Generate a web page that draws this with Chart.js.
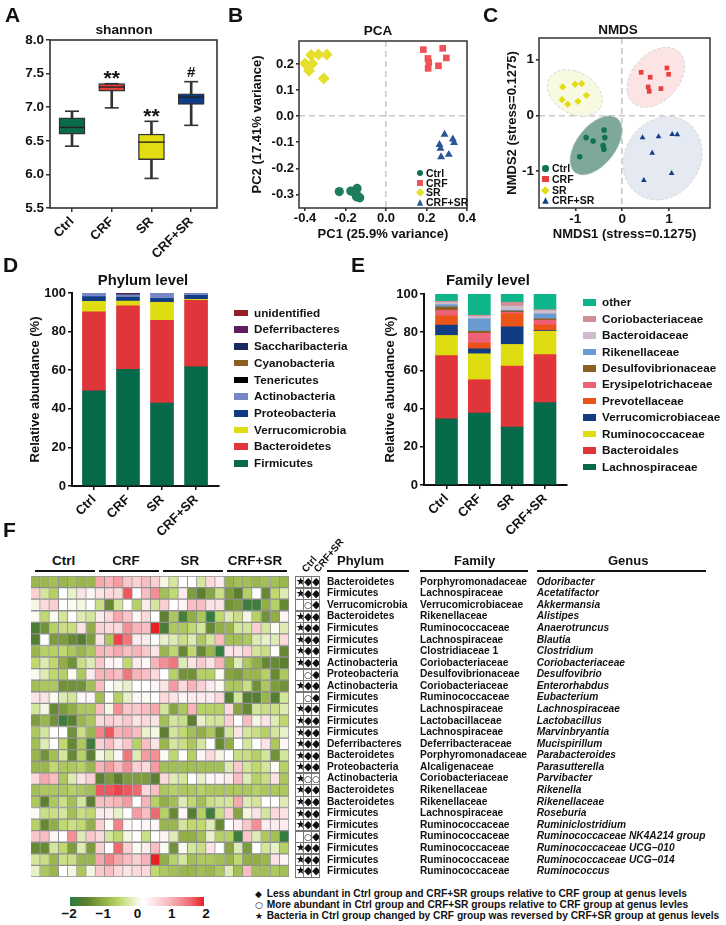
<!DOCTYPE html>
<html>
<head>
<meta charset="utf-8">
<title>Gut microbiota figure</title>
<script src="https://cdn.jsdelivr.net/npm/chart.js@4"></script>
<style>
  html, body { margin: 0; padding: 0; background: #fff; overflow: hidden; }
  body { width: 726px; height: 925px; position: relative; font-family: "Liberation Sans", Arial, sans-serif; font-weight: bold; color: #111; opacity: .999; }
  canvas { position: absolute; }
  .t { position: absolute; white-space: nowrap; }
  .line { position: absolute; background: #111; }
  .sym { position: absolute; border: 1px solid #777; box-sizing: border-box; text-align: center; font-family: "DejaVu Sans", sans-serif; overflow: hidden; }
</style>
</head>
<body>
<script>
// ---- data ----
const groups = ['Ctrl', 'CRF', 'SR', 'CRF+SR'];
const groupColors = ['#0a6b4a', '#e8403f', '#e3dc10', '#0f3d85'];

// A: box plot of shannon
const boxMin = [6.42, 6.99, 5.94, 6.73];
const boxQ1 = [6.60, 7.24, 6.22, 7.04];
const boxMed = [6.70, 7.30, 6.48, 7.15];
const boxQ3 = [6.84, 7.35, 6.60, 7.20];
const boxMax = [6.94, 7.35, 6.79, 7.38];
const noteText = ['', '**', '**', '#'];
const noteY = [0, 7.46, 6.90, 7.52];
const shannonTicks = [5.5, 6, 6.5, 7, 7.5, 8];

// B: PCA
const pcaCtrl = [[-0.231,-0.289],[-0.174,-0.287],[-0.143,-0.277],[-0.154,-0.294],[-0.143,-0.303],[-0.13,-0.313],[-0.146,-0.309]];
const pcaCrf = [[0.184,0.255],[0.28,0.26],[0.207,0.221],[0.211,0.206],[0.298,0.223],[0.259,0.193],[0.208,0.183]];
const pcaSr = [[-0.40,0.202],[-0.37,0.234],[-0.334,0.236],[-0.293,0.236],[-0.364,0.202],[-0.38,0.174],[-0.308,0.144]];
const pcaCrfSr = [[0.289,-0.07],[0.33,-0.088],[0.336,-0.102],[0.264,-0.109],[0.269,-0.124],[0.272,-0.156],[0.31,-0.147]];
const pcaXTicks = [-0.4, -0.2, 0, 0.2, 0.4];
const pcaYTicks = [-0.3, -0.2, -0.1, 0, 0.1, 0.2];

// C: NMDS
const nmdsCtrl = [[-0.386,-0.263],[-0.371,-0.40],[-0.77,-0.40],[-0.62,-0.46],[-0.407,-0.545],[-0.39,-0.61],[-0.907,-0.743]];
const nmdsCrf = [[0.407,0.772],[0.957,0.85],[0.993,0.737],[0.6,0.683],[0.557,0.509],[0.579,0.431],[0.829,0.479]];
const nmdsSr = [[-1.27,0.509],[-1.007,0.557],[-0.864,0.569],[-0.764,0.359],[-1.286,0.281],[-0.943,0.251],[-1.164,0.198]];
const nmdsCrfSr = [[0.436,-0.401],[0.779,-0.383],[1.07,-0.341],[1.179,-0.347],[0.643,-0.677],[1.057,-1.042],[0.464,-1.168]];
// ellipse: centre x, centre y, semi axes (x units), screen angle in degrees
const ellCtrl = [-0.557, -0.54, 0.735, 0.415, -52];
const ellCrf = [0.72, 0.683, 0.736, 0.5, -48];
const ellSr = [-1.014, 0.401, 0.629, 0.443, 30];
const ellCrfSr = [0.864, -0.772, 0.929, 0.8, -55];
const ellFill = ['#7ea898', '#fbe4e3', '#f8f9e1', '#e5e9f1'];
const nmdsTicks = [-1, 0, 1];

// D: phylum level, bottom to top
const phylumNames = ['Firmicutes','Bacteroidetes','Verrucomicrobia','Proteobacteria','Actinobacteria','Tenericutes','Cyanobacteria','Saccharibacteria','Deferribacteres','unidentified'];
const phylumColors = ['#05694a','#e0353b','#e0dc12','#113b83','#7688c8','#000000','#8b5e22','#1a2a60','#5f1d5f','#941f27'];
const phylumCtrl = [49.3, 41.0, 5.4, 2.4, 1.9, 0, 0, 0, 0, 0];
const phylumCrf = [60.5, 32.9, 2.4, 2.0, 1.3, 0.1, 0.1, 0.2, 0.3, 0.1];
const phylumSr = [43.0, 42.8, 9.4, 2.0, 2.8, 0, 0, 0, 0, 0];
const phylumCrfSr = [61.8, 34.4, 0.5, 2.1, 1.0, 0, 0, 0, 0, 0.2];

// E: family level, bottom to top
const familyNames = ['Lachnospiraceae','Bacteroidales','Ruminococcaceae','Verrucomicrobiaceae','Prevotellaceae','Erysipelotrichaceae','Desulfovibrionaceae','Rikenellaceae','Bacteroidaceae','Coriobacteriaceae','other'];
const familyColors = ['#05694a','#e0353b','#e0dc12','#113b83','#ea5418','#ee6076','#8b5e22','#6a9bd0','#cdbccd','#d28e94','#0fb58a'];
const familyCtrl = [34.6, 33.1, 10.6, 5.4, 4.8, 3.0, 1.7, 1.2, 1.1, 0.7, 3.8];
const familyCrf = [37.7, 17.4, 13.6, 2.6, 3.0, 5.2, 1.0, 6.5, 1.3, 0.6, 11.1];
const familySr = [30.3, 32.0, 11.3, 9.2, 6.9, 0.7, 0.6, 0.5, 2.2, 2.0, 4.3];
const familyCrfSr = [43.1, 25.2, 12.2, 0.4, 2.9, 2.5, 0.7, 2.6, 1.7, 0.5, 8.2];
const percentTicks = [0, 20, 40, 60, 80, 100];

// F: heat map rows, 7 samples in each of the 4 groups
const heatPhylum = ['Bacteroidetes','Firmicutes','Verrucomicrobia','Bacteroidetes','Firmicutes','Firmicutes','Firmicutes','Actinobacteria','Proteobacteria','Actinobacteria','Firmicutes','Firmicutes','Firmicutes','Firmicutes','Deferribacteres','Bacteroidetes','Proteobacteria','Actinobacteria','Bacteroidetes','Bacteroidetes','Firmicutes','Firmicutes','Firmicutes','Firmicutes','Firmicutes','Firmicutes'];
const heatFamily = ['Porphyromonadaceae','Lachnospiraceae','Verrucomicrobiaceae','Rikenellaceae','Ruminococcaceae','Lachnospiraceae','Clostridiaceae 1','Coriobacteriaceae','Desulfovibrionaceae','Coriobacteriaceae','Ruminococcaceae','Lachnospiraceae','Lactobacillaceae','Lachnospiraceae','Deferribacteraceae','Porphyromonadaceae','Alcaligenaceae','Coriobacteriaceae','Rikenellaceae','Rikenellaceae','Lachnospiraceae','Ruminococcaceae','Ruminococcaceae','Ruminococcaceae','Ruminococcaceae','Ruminococcaceae'];
const heatGenus = ['Odoribacter','Acetatifactor','Akkermansia','Alistipes','Anaerotruncus','Blautia','Clostridium','Coriobacteriaceae','Desulfovibrio','Enterorhabdus','Eubacterium','Lachnospiraceae','Lactobacillus','Marvinbryantia','Mucispirillum','Parabacteroides','Parasutterella','Parvibacter','Rikenella','Rikenellaceae','Roseburia','Ruminiclostridium','Ruminococcaceae NK4A214 group','Ruminococcaceae UCG−010','Ruminococcaceae UCG−014','Ruminococcus'];
const heatSymbols = ['*DD','*DD','_OD','*DD','*DD','*DD','*DD','*DD','_OD','*DD','_OD','*DD','*DD','*DD','*DD','*DD','*DD','*OO','*DD','*DD','*DD','*DD','_OD','*DD','*DD','*DD'];
const heatValues = [
  [-.9,-.9,-.8,-.9,-.8,-.9,-.9, 1.1,1,1.2,.8,.7,.9,.7, 0,-.3,.2,.2,-.3,.6,.4, -.9,-.8,-.8,-.9,-.8,-.8,-.9],
  [.7,-.3,-.6,.2,-.1,.5,.3, .5,.6,.6,1.7,.2,.9,1.3, -.8,-.5,.4,-1.2,-1.5,-1.1,-.4, -1.2,-1.5,-.6,.2,-1.4,-.5,-.2],
  [0,.6,.7,.2,.1,0,.2, -.4,-1.4,-.3,.2,-.6,.4,-.3, .7,.2,.3,.9,.9,.5,.5, -1.3,-1.2,-1.8,-1.8,-1,-.6,-1.4],
  [.1,-.5,.1,-.3,.2,-.2,-.3, .4,.6,1.1,.8,.3,.6,.2, -1.5,-.7,-1.7,-1,-.7,-1.9,-.5, -.2,-.4,0,-.6,-1.3,-1,.3],
  [-1.7,-1.3,-.6,-.4,-.4,.5,-1, .7,.6,.6,1.3,1,.9,2, -1.7,-.7,-.7,-.5,-.3,-1.4,-1, -.9,-.3,-.3,.7,-.3,.1,-.2],
  [-1.6,.2,-1.2,-1.2,-1.4,-1.6,-1.2, .5,-.7,1.8,1.5,.4,.4,.2, -.1,-.2,-.4,-.2,-.7,-.3,.9, -.8,-.8,-.7,-.2,-.1,-.2,.6],
  [-.9,-.6,-.6,-.5,-.7,-.9,-.7, 1,.9,1.1,.9,1,.8,.5, -.9,-.5,-1.4,-.5,-1.4,-.9,-1.9, .5,.5,.7,-.3,-.4,.2,-1.4],
  [-.5,-.2,-.5,-1,-1.3,-.4,-.2, .8,.3,.3,-.5,.4,.3,1, 1.3,1.5,-.2,.5,.8,.5,1, -.9,-.2,-.7,-1,-1.4,-1.4,-1.5],
  [.1,-.2,-.5,-.6,.1,-.7,.4, 1,1,.9,1.5,1,.9,.6, .2,-.6,-1.3,-1.3,-.6,-.6,.1, -1.1,-1.2,-.9,-.9,-.6,-1.4,-.7],
  [-.8,-.7,-.7,-1.3,-1.3,-1.3,-.8, .9,.2,0,-.1,.2,.2,.3, .5,1.2,.6,1,.7,.4,.1, -.7,-.7,-.4,-1.3,-.7,-1.2,-1.3],
  [.5,.5,.1,-.2,-.3,.3,.3, -.8,.2,-.6,-.1,.3,.1,.2, .6,.5,.3,.4,.4,.4,.6, -1.6,-.3,-1.6,-1.6,-.9,-1.6,-.3],
  [-.3,0,-1.4,-1.2,-1,-.7,-.7, .9,0,1.3,.8,.8,.9,1.1, -.3,-1.1,-.7,1,-.6,-.6,-.6, .6,-1.1,-1.4,-.3,-.4,-.4,-.2],
  [-1.2,-.9,-1.3,-1.8,-1.5,-.9,-.7, .6,.7,.6,.8,.5,.6,.5, -.8,-.3,-.4,-1.5,-.1,-.3,-.3, .7,.2,.9,0,.5,-.2,-.5],
  [-.7,-.3,.2,.2,-1.3,-.4,-.9, 1.4,1.7,1,1.1,.9,-.1,0, -1.5,-.3,-.5,-.8,-1,-.7,-1.4, -.3,.5,-.3,-.4,-.6,-.3,-.1],
  [-.8,-.2,.2,-.5,-1.4,-.7,-1.8, .7,.9,.5,.8,-.6,.9,.5, -.9,-.3,-.4,-.7,-.3,.2,-1.4, -1,.2,-.3,.2,.5,-.7,.3],
  [-.9,-1.3,-.8,-.3,-1.4,-.6,-1.5, 0,-.2,.3,1.5,-.2,1.2,1.3, .1,-.5,.2,-.6,.3,.6,0, .2,-.4,-.4,-.6,-.3,-1.3,-.3],
  [-.9,-.9,-.5,-.7,-.7,-.6,-.9, 1,1.2,.9,1.3,.7,.6,1.2, -.8,-.8,-.8,-.8,-.8,-.8,-.8, -.2,.8,-.3,-.5,-.3,.1,-.6],
  [.6,1.1,.9,-.7,-.2,.5,.7, -1.5,-1.2,-1.5,-1.2,-1.2,-1.2,-1.5, .6,-.2,-.3,.2,-.1,.3,.3, .4,.9,-.2,-.6,-.4,.5,-.7],
  [-.8,-.7,-.7,-.7,-.6,-.7,-.8, 1.7,1.7,1.8,1.7,1.6,.6,.9, -.7,-.6,-.7,-.7,-.6,-.7,-.7, -.7,-.7,-.7,-.6,-.7,-.7,-.7],
  [-.7,-1.5,-.7,-.4,-.8,-.3,-1.5, .9,.9,1,1.2,.2,1,-.6, -1,-.8,-.2,-.5,-.8,-.4,-.3, -.3,1.1,-.2,-.3,.2,.2,-.2],
  [.1,-.4,-.4,-.3,-.8,-.4,-.5, .4,.4,-.1,.2,1.2,.9,1.6, -.6,-1.4,.3,-1.6,-.6,-1.8,-.4, .7,-1.1,0,.5,-.3,.6,.5],
  [-.6,-1.4,-1,-.5,-.4,-.5,-1, .7,.1,1.4,.3,.2,.3,.3, -.9,-.9,-.3,-.5,-.5,-.2,-1.4, .2,.4,.8,1.3,.4,.4,.4],
  [.8,.9,.3,.2,1.3,-.2,.8, .6,-.3,-.5,0,.2,-.4,.2, .3,-.2,-1,-1,-.8,-.1,-.6, -.6,-1.8,.8,-.2,-.7,-.8,-1.9],
  [-1.4,-1.4,-.3,-.5,-1.2,-.2,-1.2, .7,.2,1.6,.7,.1,.4,.9, .1,-1.3,.1,-.3,-.4,.5,.2, -1.1,-.2,-1.2,.2,-.3,-.1,-.6],
  [-.3,-.4,-.9,-.4,-.4,-.9,-.9, 1.1,1.4,1.1,.9,.7,1,2, -1,-.6,-.3,-.8,-.7,-.7,-.8, -.9,-.5,-1,-1,-.9,.5,.3],
  [-.1,-.7,-.9,.2,0,-.7,0, .8,.9,.6,.5,.6,.6,-.5, -.7,-.8,-.9,-.9,-.8,-.9,-.7, -.2,-.8,.9,-.8,-.8,-.7,-.8]
];
const colorStops = [[-2,'#2a7c42'],[-1.5,'#5d7f30'],[-1,'#91af46'],[-.5,'#bfd96e'],[0,'#f4f7e2'],[.2,'#ffffff'],[1,'#f8b4b9'],[1.6,'#ef6a70'],[2,'#ec1c24']];
const colorbarTicks = [-2, -1, 0, 1, 2];
const footnotes = [
  ['◆', 'Less abundant in Ctrl group and CRF+SR groups relative to CRF group at genus levels'],
  ['○', 'More abundant in Ctrl group and CRF+SR groups relative to CRF group at genus levles'],
  ['★', 'Bacteria in Ctrl group changed by CRF group was reversed by CRF+SR group at genus levels']
];

// ---- helpers ----
const FONT = '"Liberation Sans", Arial, sans-serif';
Chart.defaults.font.family = FONT;
Chart.defaults.font.weight = 'bold';
Chart.defaults.color = '#111';
Chart.defaults.animation = false;

function hex(c) { return [1, 3, 5].map(i => parseInt(c.substr(i, 2), 16)); }

function heatColor(v) {
  for (let i = 1; i < colorStops.length; i++) {
    if (v <= colorStops[i][0]) {
      const [v0, c0] = colorStops[i - 1], [v1, c1] = colorStops[i];
      const f = (v - v0) / (v1 - v0), a = hex(c0), b = hex(c1);
      return `rgb(${a.map((x, k) => Math.round(x + (b[k] - x) * f)).join(',')})`;
    }
  }
  return colorStops[colorStops.length - 1][1];
}

function text(str, x, y, size, extra) {
  const d = document.createElement('div');
  d.className = 't';
  d.textContent = str;
  d.style.left = x + 'px';
  d.style.top = (y - size * 0.6) + 'px';
  d.style.fontSize = size + 'px';
  d.style.lineHeight = (size * 1.2) + 'px';
  if (extra) Object.assign(d.style, extra);
  document.body.appendChild(d);
  return d;
}

function rule(x0, x1, y, h) {
  const d = document.createElement('div');
  d.className = 'line';
  d.style.cssText = `left:${x0}px;width:${x1 - x0}px;top:${y}px;height:${h}px`;
  document.body.appendChild(d);
}

function canvas(l, t, w, h) {
  const c = document.createElement('canvas');
  c.width = w; c.height = h;
  c.style.left = l + 'px'; c.style.top = t + 'px';
  c.style.width = w + 'px'; c.style.height = h + 'px';
  document.body.appendChild(c);
  return c;
}

// title sits in a 30px band above the plot
function titleBand(str, size, plotTop, titleY) {
  const lh = size * 1.2, top = titleY - (plotTop - 30) - lh / 2;
  return { display: true, text: str, color: '#111', font: { size }, padding: { top, bottom: 30 - top - lh } };
}

function fixedTicks(vals) {
  return s => { s.ticks = vals.map(v => ({ value: v })); };
}

// the titles are not centred on the plots in the figure
const titlePosPlugin = {
  id: 'titlePos',
  afterLayout(chart, args, opts) {
    if (opts.cx === undefined) return;
    const b = chart.titleBlock, half = (b.right - b.left) / 2;
    b.left = opts.cx - half;
    b.right = opts.cx + half;
  }
};

const framePlugin = {
  id: 'frame',
  afterDatasetsDraw(chart, args, opts) {
    if (!opts.width) return;
    const { ctx, chartArea: a } = chart;
    ctx.save();
    ctx.strokeStyle = opts.color;
    ctx.lineWidth = opts.width;
    ctx.strokeRect(a.left, a.top, a.right - a.left, a.bottom - a.top);
    ctx.restore();
  }
};

// significance marks above the boxes of panel A
const notesPlugin = {
  id: 'notes',
  afterDatasetsDraw(chart, args, opts) {
    if (!opts.text) return;
    const { ctx, scales } = chart;
    ctx.save();
    ctx.fillStyle = '#111';
    ctx.textAlign = 'center';
    ctx.textBaseline = 'middle';
    opts.text.forEach((t, i) => {
      if (!t) return;
      ctx.font = (t === '#' ? 'bold 15px ' : 'bold 21px ') + FONT;
      ctx.fillText(t, scales.x.getPixelForValue(i), scales.y.getPixelForValue(opts.y[i]) + (t === '#' ? 1 : 3));
    });
    ctx.restore();
  }
};

// confidence ellipses of panel C, placed with the chart scales
const ellipsePlugin = {
  id: 'ellipses',
  beforeDatasetsDraw(chart, args, opts) {
    if (!opts.list) return;
    const { ctx, scales } = chart;
    const unit = Math.abs(scales.x.getPixelForValue(1) - scales.x.getPixelForValue(0));
    ctx.save();
    opts.list.forEach((e, i) => {
      ctx.beginPath();
      ctx.ellipse(scales.x.getPixelForValue(e[0]), scales.y.getPixelForValue(e[1]), e[2] * unit, e[3] * unit, e[4] * Math.PI / 180, 0, Math.PI * 2);
      ctx.fillStyle = opts.fill[i];
      ctx.fill();
      ctx.setLineDash([3, 2]);
      ctx.lineWidth = 1;
      ctx.strokeStyle = '#d4d4d4';
      ctx.stroke();
    });
    ctx.restore();
  }
};

Chart.register(titlePosPlugin, framePlugin, notesPlugin, ellipsePlugin);

function linearAxis(o) {
  return {
    type: 'linear', min: o.min, max: o.max, offset: false,
    afterBuildTicks: fixedTicks(o.ticks),
    afterFit: s => { if (s.axis === 'x') s.height = o.size; else s.width = o.size; },
    border: o.border || { display: false },
    grid: Object.assign({ offset: false }, o.grid),
    title: o.title || { display: false },
    ticks: Object.assign({ autoSkip: false, color: '#111', font: { size: o.font }, padding: o.pad === undefined ? 2 : o.pad }, o.tickOpts)
  };
}

const dashZero = {
  color: c => Math.abs(c.tick.value) < 1e-6 ? '#c9c9c9' : 'rgba(0,0,0,0)',
  tickColor: '#333', lineWidth: 1.6, tickLength: 3
};

// ---- A: shannon box plot ----
new Chart(canvas(0, 10, 248, 252), {
  data: {
    datasets: [
      { type: 'bar', label: 'range', order: 3, grouped: false, barThickness: 2, backgroundColor: '#333',
        data: groups.map((g, i) => ({ x: i, y: [boxMin[i], boxMax[i]] })) },
      { type: 'bar', label: 'IQR', order: 2, grouped: false, barThickness: 26, backgroundColor: groupColors, borderColor: '#333', borderWidth: 1.4, borderSkipped: false,
        data: groups.map((g, i) => ({ x: i, y: [boxQ1[i], boxQ3[i]] })) },
      { type: 'line', label: 'median', order: 1, showLine: false, pointStyle: 'line', pointRadius: 13, pointBorderColor: '#222', pointBorderWidth: 1.4,
        data: groups.map((g, i) => ({ x: i, y: boxMed[i] })) },
      { type: 'line', label: 'min', order: 1, showLine: false, pointStyle: 'line', pointRadius: 7, pointBorderColor: '#333', pointBorderWidth: 1.6,
        data: groups.map((g, i) => ({ x: i, y: boxMin[i] })) },
      { type: 'line', label: 'max', order: 1, showLine: false, pointStyle: 'line', pointRadius: 7, pointBorderColor: '#333', pointBorderWidth: 1.6,
        data: groups.map((g, i) => ({ x: i, y: boxMax[i] })) }
    ]
  },
  options: {
    responsive: false,
    layout: { autoPadding: false, padding: { right: 31 } },
    plugins: {
      legend: { display: false }, tooltip: { enabled: false },
      title: titleBand('shannon', 13.7, 40, 30),
      titlePos: { cx: 124 },
      frame: { color: '#333', width: 1.6 },
      notes: { text: noteText, y: noteY }
    },
    scales: {
      x: linearAxis({ min: -0.554, max: 3.65, ticks: [0, 1, 2, 3], size: 54, font: 13,
        grid: { display: true, drawOnChartArea: false, tickColor: '#333', tickLength: 4, lineWidth: 1.5 },
        tickOpts: { minRotation: 45, maxRotation: 45, callback: v => groups[v] } }),
      y: linearAxis({ min: 5.5, max: 8, ticks: shannonTicks, size: 50, font: 13.5,
        grid: { display: true, drawOnChartArea: false, tickColor: '#333', tickLength: 4, lineWidth: 1.5 },
        tickOpts: { callback: v => v.toFixed(1) } })
    }
  }
});

// ---- B, C: ordination scatter ----
const pointStyles = ['circle', 'rect', 'rectRot', 'triangle'];

function scatterSets(sets, colors, radii) {
  return sets.map((pts, i) => ({
    type: 'scatter', label: groups[i], pointStyle: pointStyles[i], pointRadius: radii[i],
    pointBackgroundColor: colors[i], pointBorderWidth: 0,
    data: pts.map(p => ({ x: p[0], y: p[1] }))
  }));
}

new Chart(canvas(245, 11, 266, 231), {
  data: { datasets: scatterSets([pcaCtrl, pcaCrf, pcaSr, pcaCrfSr], ['#1f7d5c', '#ef5257', '#e6e02c', '#2c5597'], [4.6, 4.7, 6, 4.6]) },
  options: {
    responsive: false,
    layout: { autoPadding: false, padding: { right: 44 } },
    plugins: {
      legend: { display: false }, tooltip: { enabled: false },
      title: titleBand('PCA', 13.5, 41, 31),
      titlePos: { cx: 133 },
      frame: { color: '#333', width: 1.5 }
    },
    scales: {
      x: linearAxis({ min: -0.43, max: 0.4, ticks: pcaXTicks, size: 34, font: 13, pad: 0, grid: Object.assign({ display: true }, dashZero),
        border: { display: false, dash: [6, 4] },
        title: { display: true, text: 'PC1 (25.9% variance)', font: { size: 13 }, color: '#111', padding: { top: 0, bottom: 0 } },
        tickOpts: { maxRotation: 0, callback: v => v.toFixed(1) } }),
      y: linearAxis({ min: -0.352, max: 0.288, ticks: pcaYTicks, size: 54, font: 13, grid: Object.assign({ display: true }, dashZero),
        border: { display: false, dash: [6, 4] },
        title: { display: true, text: 'PC2 (17.41% variance)', font: { size: 13 }, color: '#111', padding: { top: 5, bottom: 0 } },
        tickOpts: { callback: v => v.toFixed(1) } })
    }
  }
});

new Chart(canvas(500, 8, 236, 234), {
  data: { datasets: scatterSets([nmdsCtrl, nmdsCrf, nmdsSr, nmdsCrfSr], ['#0f7350', '#e8403f', '#e3dc10', '#123f85'], [2.8, 3.3, 3.6, 3.3]) },
  options: {
    responsive: false,
    layout: { autoPadding: false, padding: { right: 26 } },
    plugins: {
      legend: { display: false }, tooltip: { enabled: false },
      title: titleBand('NMDS', 13.5, 38, 30),
      titlePos: { cx: 118 },
      frame: { color: '#333', width: 1.5 },
      ellipses: { list: [ellCtrl, ellCrf, ellSr, ellCrfSr], fill: ellFill }
    },
    scales: {
      x: linearAxis({ min: -1.777, max: 1.878, ticks: nmdsTicks, size: 34, font: 13.5, pad: 0, grid: Object.assign({ display: true }, dashZero),
        border: { display: false, dash: [6, 4] },
        title: { display: true, text: 'NMDS1 (stress=0.1275)', font: { size: 13 }, color: '#111', padding: { top: 0, bottom: 0 } },
        tickOpts: { maxRotation: 0, callback: v => String(v) } }),
      y: linearAxis({ min: -1.664, max: 1.388, ticks: nmdsTicks, size: 39, font: 13.5, grid: Object.assign({ display: true }, dashZero),
        border: { display: false, dash: [6, 4] },
        title: { display: true, text: 'NMDS2 (stress=0.1275)', font: { size: 13 }, color: '#111', padding: { top: 5, bottom: 0 } },
        tickOpts: { callback: v => String(v) } })
    }
  }
});

// ---- D, E: stacked composition bars ----
function stackedChart(cv, title, titleY, titleCx, plotTop, names, colors, rows, width, padRight, xMin, xMax, xSize, ySize, yTitlePad) {
  const axisGrid = { display: true, drawOnChartArea: false, color: '#111', tickColor: '#111', tickLength: 4, lineWidth: 1.5 };
  const axisBorder = { display: true, color: '#111', width: 2 };
  new Chart(cv, {
    type: 'bar',
    data: {
      datasets: names.map((n, k) => ({
        label: n, backgroundColor: colors[k], barThickness: width,
        data: rows.map((r, i) => ({ x: i, y: r[k] }))
      }))
    },
    options: {
      responsive: false,
      layout: { autoPadding: false, padding: { right: padRight } },
      plugins: {
        legend: { display: false }, tooltip: { enabled: false },
        title: titleBand(title, 14.8, plotTop, titleY),
        titlePos: { cx: titleCx }
      },
      scales: {
        x: Object.assign(linearAxis({ min: xMin, max: xMax, ticks: [0, 1, 2, 3], size: xSize, font: 13, grid: axisGrid, border: axisBorder,
          tickOpts: { minRotation: 45, maxRotation: 45, callback: v => groups[v] } }), { stacked: true }),
        y: Object.assign(linearAxis({ min: 0, max: 100, ticks: percentTicks, size: ySize, font: 13, grid: axisGrid, border: axisBorder,
          title: { display: true, text: 'Relative abundance (%)', font: { size: 13 }, color: '#111', padding: { top: yTitlePad, bottom: 0 } } }), { stacked: true })
      }
    }
  });
}

stackedChart(canvas(0, 263, 286, 282), 'Phylum level', 281, 143, 293, phylumNames, phylumColors,
  [phylumCtrl, phylumCrf, phylumSr, phylumCrfSr], 23, 67, -0.645, 3.674, 59, 72, 28);
stackedChart(canvas(380, 264, 216, 282), 'Family level', 281, 108, 294, familyNames, familyColors,
  [familyCtrl, familyCrf, familySr, familyCrfSr], 22, 29, -0.685, 3.67, 61, 44, 3);

// legends, top entry is the top of the stack
function barLegend(names, colors, x, y0, step, swatch) {
  names.slice().reverse().forEach((n, i) => {
    const y = y0 + i * step;
    const s = document.createElement('div');
    s.style.cssText = `position:absolute;left:${x}px;top:${y - 3}px;width:${swatch}px;height:6.5px;background:${colors[names.length - 1 - i]}`;
    document.body.appendChild(s);
    text(n, x + swatch + 6, y, 11.7);
  });
}
barLegend(phylumNames, phylumColors, 234, 312.7, 16.72, 14);
barLegend(familyNames, familyColors, 583, 302.3, 16.44, 13);

function markerLegend(x, textX, ys, colors, size) {
  const css = [
    `border-radius:50%`, ``, `transform:rotate(45deg) scale(.85)`, `clip-path:polygon(50% 0,100% 100%,0 100%)`
  ];
  groups.forEach((g, i) => {
    const m = document.createElement('div');
    m.style.cssText = `position:absolute;left:${x - size / 2}px;top:${ys[i] - size / 2}px;width:${size}px;height:${size}px;background:${colors[i]};${css[i]}`;
    document.body.appendChild(m);
    text(g, textX, ys[i], 10.5);
  });
}
markerLegend(420, 426, [173, 183, 192.5, 202.5], ['#0f7350', '#ef5257', '#e6e02c', '#2c5597'], 6.5);
markerLegend(545.5, 552, [168.5, 179, 190, 200.5], ['#0f7350', '#e8403f', '#e3dc10', '#123f85'], 6.5);

// ---- F: heat map as a stacked horizontal bar chart, each sample is one stack layer ----
const sampleCols = heatValues[0].map((_, j) => j);
new Chart(canvas(31, 576, 258, 301), {
  type: 'bar',
  data: {
    labels: heatGenus,
    datasets: sampleCols.map(j => ({
      label: 'sample ' + (j + 1),
      data: heatValues.map(() => 1),
      backgroundColor: heatValues.map(r => heatColor(r[j])),
      borderColor: '#8f8f8f', borderWidth: 1,
      barPercentage: 1, categoryPercentage: 1
    }))
  },
  options: {
    indexAxis: 'y',
    responsive: false,
    layout: { autoPadding: false, padding: 0 },
    plugins: { legend: { display: false }, tooltip: { enabled: false } },
    scales: {
      x: { display: false, stacked: true, min: 0, max: sampleCols.length },
      y: { display: false, stacked: true }
    }
  }
});

const groupSpans = [[35, 95], [99, 159], [163, 223], [227, 287]];
const groupLabelX = [63.7, 126, 190, 255];
groups.forEach((g, i) => {
  text(g, groupLabelX[i] - 40, 561, 13.5, { width: '80px', textAlign: 'center' });
  rule(groupSpans[i][0], groupSpans[i][1], 570, 2.4);
});

// table on the right of the heat map
const rowH = 301 / heatGenus.length;
const symGlyph = { '*': '★', D: '◆', O: '○', _: '' };
heatGenus.forEach((g, r) => {
  const y = 576 + rowH * (r + 0.5);
  [...heatSymbols[r]].forEach((c, k) => {
    const d = document.createElement('div');
    d.className = 'sym';
    d.textContent = symGlyph[c];
    d.style.cssText = `left:${294.7 + k * 8.2}px;top:${576 + rowH * r}px;width:9px;height:${rowH + 0.6}px;line-height:${rowH - 1}px;font-size:${c === 'O' ? 9 : 11}px`;
    document.body.appendChild(d);
  });
  text(heatPhylum[r], 327, y, 10.2);
  text(heatFamily[r], 420, y, 10.2);
  text(g, 536.7, y, 10.2, { fontStyle: 'italic' });
});

[['Phylum', 337, 326.7, 409], ['Family', 454, 419.7, 528], ['Genus', 608, 536.7, 705.7]].forEach(h => {
  text(h[0], h[1], 561, 13);
  rule(h[2], h[3], 570, 2.4);
});
text('Ctrl', 304, 571, 10, { transform: 'rotate(-50deg)', transformOrigin: '0 50%' });
text('CRF+SR', 316, 571, 10, { transform: 'rotate(-50deg)', transformOrigin: '0 50%' });

// colour bar
const bar = document.createElement('div');
const barStops = colorStops.map(s => `${s[1]} ${(s[0] + 2) * 25}%`).join(',');
bar.style.cssText = `position:absolute;left:70px;top:897px;width:134px;height:9px;background:linear-gradient(90deg,${barStops})`;
document.body.appendChild(bar);
colorbarTicks.forEach(v => {
  text(v < 0 ? '−' + (-v) : String(v), 137.5 + v * 34.2 - 15, 914.5, 13.5, { width: '30px', textAlign: 'center' });
});

const footY = [894.3, 905.3, 916.6];
footnotes.forEach((f, i) => {
  text(f[0], 255, footY[i], 9, { fontFamily: '"DejaVu Sans", sans-serif' });
  text(f[1], 266.7, footY[i], 10.2);
});

// panel letters
[['A', 5, 15], ['B', 228, 15], ['C', 483, 15], ['D', 3, 265], ['E', 351, 265], ['F', 3, 530]].forEach(p => text(p[0], p[1], p[2], 21));
</script>
</body>
</html>
